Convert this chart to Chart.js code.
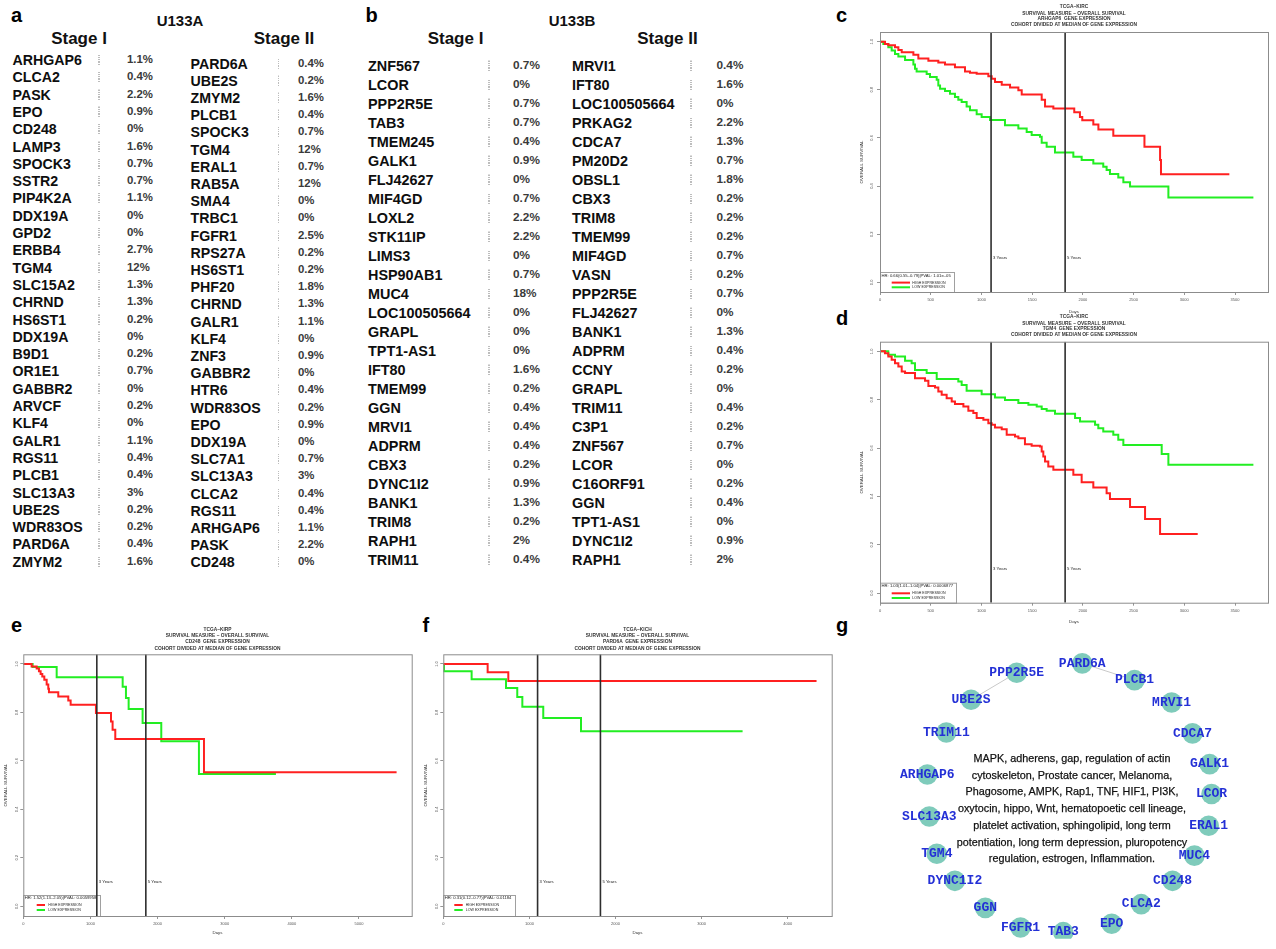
<!DOCTYPE html>
<html>
<head>
<meta charset="utf-8">
<title>Gene signature tables, survival curves and pathway network</title>
<script src="https://cdn.jsdelivr.net/npm/chart.js@4.4.1/dist/chart.umd.min.js"></script>
<style>
  html, body { margin: 0; padding: 0; background: #fff; }
  body { position: relative; width: 1276px; height: 949px; overflow: hidden; font-family: "Liberation Sans", Arial, Helvetica, sans-serif; }
  .abs { position: absolute; white-space: nowrap; line-height: 1; }
  .panel-letter { font-weight: bold; font-size: 20px; color: #000; transform: translateY(-50%); }
  .hdr { font-weight: bold; color: #111; transform: translate(-50%, -50%); }
  .gene { font-weight: bold; color: #0e0e0e; transform: translateY(-50%); }
  .pct { font-weight: bold; color: #3a3a3a; transform: translateY(-50%); }
  .dots { width: 1.6px; height: 11px; transform: translateY(-50%);
          background: repeating-linear-gradient(to bottom, #bdbdbd 0, #bdbdbd 1.2px, transparent 1.2px, transparent 2.3px); }
  .pathways { position: absolute; left: 1072px; top: 750px; transform: translateX(-50%); text-align: center;
              font-size: 10.8px; line-height: 16.7px; color: #111; white-space: nowrap;
              -webkit-text-stroke: 0.25px #111; }
  canvas { position: absolute; }
</style>
</head>
<body>
<script>
// ---------- Panel a: U133A signature genes with alteration frequency ----------
const u133aStageIGenes = ['ARHGAP6','CLCA2','PASK','EPO','CD248','LAMP3','SPOCK3','SSTR2','PIP4K2A','DDX19A','GPD2','ERBB4','TGM4','SLC15A2','CHRND','HS6ST1','DDX19A','B9D1','OR1E1','GABBR2','ARVCF','KLF4','GALR1','RGS11','PLCB1','SLC13A3','UBE2S','WDR83OS','PARD6A','ZMYM2'];
const u133aStageIPct = [1.1,0.4,2.2,0.9,0,1.6,0.7,0.7,1.1,0,0,2.7,12,1.3,1.3,0.2,0,0.2,0.7,0,0.2,0,1.1,0.4,0.4,3,0.2,0.2,0.4,1.6];
const u133aStageIIGenes = ['PARD6A','UBE2S','ZMYM2','PLCB1','SPOCK3','TGM4','ERAL1','RAB5A','SMA4','TRBC1','FGFR1','RPS27A','HS6ST1','PHF20','CHRND','GALR1','KLF4','ZNF3','GABBR2','HTR6','WDR83OS','EPO','DDX19A','SLC7A1','SLC13A3','CLCA2','RGS11','ARHGAP6','PASK','CD248'];
const u133aStageIIPct = [0.4,0.2,1.6,0.4,0.7,12,0.7,12,0,0,2.5,0.2,0.2,1.8,1.3,1.1,0,0.9,0,0.4,0.2,0.9,0,0.7,3,0.4,0.4,1.1,2.2,0];

// ---------- Panel b: U133B signature genes ----------
const u133bStageIGenes = ['ZNF567','LCOR','PPP2R5E','TAB3','TMEM245','GALK1','FLJ42627','MIF4GD','LOXL2','STK11IP','LIMS3','HSP90AB1','MUC4','LOC100505664','GRAPL','TPT1-AS1','IFT80','TMEM99','GGN','MRVI1','ADPRM','CBX3','DYNC1I2','BANK1','TRIM8','RAPH1','TRIM11'];
const u133bStageIPct = [0.7,0,0.7,0.7,0.4,0.9,0,0.7,2.2,2.2,0,0.7,18,0,0,0,1.6,0.2,0.4,0.4,0.4,0.2,0.9,1.3,0.2,2,0.4];
const u133bStageIIGenes = ['MRVI1','IFT80','LOC100505664','PRKAG2','CDCA7','PM20D2','OBSL1','CBX3','TRIM8','TMEM99','MIF4GD','VASN','PPP2R5E','FLJ42627','BANK1','ADPRM','CCNY','GRAPL','TRIM11','C3P1','ZNF567','LCOR','C16ORF91','GGN','TPT1-AS1','DYNC1I2','RAPH1'];
const u133bStageIIPct = [0.4,1.6,0,2.2,1.3,0.7,1.8,0.2,0.2,0.2,0.7,0.2,0.7,0,1.3,0.4,0.2,0,0.4,0.2,0.7,0,0.2,0.4,0,0.9,2];

// ---------- Kaplan-Meier curves: event days and survival fractions ----------
const kircArhgap6HighDays = [0,49,82,148,181,214,329,378,477,575,641,739,838,887,953,1068,1101,1134,1200,1282,1364,1397,1594,1627,1709,1915,1971,1994,2103,2153,2300,2607,2761,2770,3444];
const kircArhgap6HighSurv = [1,0.99,0.985,0.977,0.965,0.956,0.945,0.93,0.921,0.913,0.905,0.894,0.876,0.871,0.867,0.856,0.846,0.832,0.821,0.809,0.798,0.78,0.759,0.731,0.722,0.707,0.687,0.673,0.656,0.635,0.609,0.563,0.508,0.449,0.449];
const kircArhgap6LowDays = [0,33,82,115,148,181,247,329,345,361,460,493,559,575,592,641,690,739,772,805,854,887,953,1002,1085,1232,1364,1446,1495,1577,1594,1643,1725,1906,1988,2103,2201,2234,2267,2349,2399,2465,2843,3681];
const kircArhgap6LowSurv = [1,0.99,0.977,0.963,0.949,0.938,0.924,0.905,0.887,0.876,0.866,0.853,0.842,0.818,0.804,0.795,0.784,0.770,0.759,0.749,0.731,0.715,0.698,0.687,0.674,0.653,0.639,0.625,0.612,0.605,0.580,0.563,0.539,0.522,0.508,0.494,0.480,0.467,0.450,0.436,0.416,0.398,0.353,0.353];

const kircTgm4HighDays = [0,49,82,115,148,181,214,247,345,444,477,542,575,608,657,707,739,822,871,920,953,1019,1068,1101,1134,1200,1249,1331,1364,1429,1495,1577,1594,1610,1627,1659,1709,1906,1988,2103,2234,2267,2465,2613,2761,3132];
const kircTgm4HighSurv = [1,0.992,0.979,0.965,0.951,0.937,0.917,0.910,0.889,0.878,0.857,0.851,0.834,0.820,0.806,0.793,0.782,0.772,0.754,0.745,0.724,0.717,0.703,0.696,0.685,0.678,0.655,0.648,0.641,0.616,0.609,0.606,0.586,0.565,0.544,0.524,0.510,0.489,0.458,0.437,0.413,0.389,0.356,0.306,0.244,0.244];
const kircTgm4LowDays = [0,82,148,247,312,345,460,559,772,805,854,1002,1134,1232,1364,1463,1545,1594,1643,1725,1923,1972,2120,2152,2201,2300,2349,2399,2777,2843,3681];
const kircTgm4LowSurv = [1,0.986,0.979,0.961,0.951,0.923,0.910,0.886,0.875,0.861,0.837,0.823,0.809,0.799,0.786,0.779,0.772,0.762,0.754,0.742,0.724,0.710,0.696,0.682,0.668,0.655,0.634,0.613,0.575,0.531,0.531];

const kirpCd248HighDays = [0,124,199,233,258,283,313,348,372,382,521,670,705,1082,1306,1330,1370,2691,5560];
const kirpCd248HighSurv = [1,0.990,0.981,0.970,0.959,0.948,0.935,0.915,0.898,0.883,0.866,0.849,0.832,0.798,0.763,0.729,0.690,0.553,0.553];
const kirpCd248LowDays = [0,139,497,1480,1529,1569,1777,2055,2616,3763];
const kirpCd248LowSurv = [1,0.988,0.945,0.906,0.860,0.814,0.757,0.681,0.546,0.546];

const kichPard6aHighDays = [0,515,755,4335];
const kichPard6aHighSurv = [1,0.966,0.930,0.930];
const kichPard6aLowDays = [0,8,329,728,859,918,1161,1599,3476];
const kichPard6aLowSurv = [1,0.970,0.937,0.901,0.864,0.824,0.777,0.722,0.722];

// Axis ticks and reference marks
const survTicks = [0, 0.2, 0.4, 0.6, 0.8, 1.0];
const kircDayTicks = [0,500,1000,1500,2000,2500,3000,3500];
const kirpDayTicks = [0,1000,2000,3000,4000,5000];
const kichDayTicks = [0,1000,2000,3000,4000];
const yearMarkDays = [1095, 1825];
const yearMarkLabels = ['3 Years', '5 Years'];

// ---------- Panel g: network nodes (circular layout coordinates) ----------
const netGenes = ['PARD6A','PLCB1','PPP2R5E','UBE2S','MRVI1','TRIM11','CDCA7','ARHGAP6','GALK1','LCOR','SLC13A3','ERAL1','TGM4','MUC4','DYNC1I2','CD248','GGN','CLCA2','FGFR1','TAB3','EPO'];
const netLayoutX = [13,68,-56,-104,107,-130,129,-150,147,149,-148,146,-140,131,-121,108,-89,75,-52,-7,44];
const netLayoutY = [143,125,133,104,101,69,68,24,35,3,-21,-31,-61,-63,-90,-90,-119,-115,-140,-145,-136];
const netEdges = [['PPP2R5E','UBE2S'], ['PARD6A','PLCB1']];
const pathwayLines = [
  'MAPK, adherens, gap, regulation of actin',
  'cytoskeleton, Prostate cancer, Melanoma,',
  'Phagosome, AMPK, Rap1, TNF, HIF1, PI3K,',
  'oxytocin, hippo, Wnt, hematopoetic cell lineage,',
  'platelet activation, sphingolipid, long term',
  'potentiation, long term depression, pluropotency',
  'regulation, estrogen, Inflammation.'
];

// ================= drawing =================
const FONT = '"Liberation Sans", Arial, Helvetica, sans-serif';
Chart.defaults.font.family = FONT;
const HIGH_COLOR = '#ff2020';
const LOW_COLOR = '#22ee22';
const SURV_MIN = -0.04, SURV_MAX = 1.04;

function addText(txt, x, y, cls, style) {
  const d = document.createElement('div');
  d.className = 'abs ' + cls;
  d.textContent = txt;
  d.style.left = x + 'px';
  d.style.top = y + 'px';
  if (style) Object.assign(d.style, style);
  document.body.appendChild(d);
  return d;
}

function tableColumn(genes, pcts, g) {
  genes.forEach((name, i) => {
    const y = g.y0 + i * g.dy;
    addText(name, g.geneX, y, 'gene', {fontSize: g.geneSize + 'px'});
    const dot = document.createElement('div');
    dot.className = 'abs dots';
    dot.style.left = g.dotX + 'px';
    dot.style.top = y + 'px';
    document.body.appendChild(dot);
    addText(pcts[i] + '%', g.pctX, y, 'pct', {fontSize: g.pctSize + 'px'});
  });
}

// panel letters
[['a', 11, 15], ['b', 365.5, 15], ['c', 836, 15], ['d', 836, 318], ['e', 11, 625], ['f', 422.5, 625], ['g', 836, 625]]
  .forEach(([t, x, y]) => addText(t, x, y, 'panel-letter'));

// table headers
addText('U133A', 180, 20, 'hdr', {fontSize: '15px'});
addText('Stage I', 79, 38, 'hdr', {fontSize: '17px'});
addText('Stage II', 284, 38, 'hdr', {fontSize: '17px'});
addText('U133B', 572, 20, 'hdr', {fontSize: '15px'});
addText('Stage I', 455.5, 38, 'hdr', {fontSize: '17px'});
addText('Stage II', 667.5, 38, 'hdr', {fontSize: '17px'});

tableColumn(u133aStageIGenes, u133aStageIPct, {geneX: 12.5, dotX: 98, pctX: 127, y0: 60, dy: 17.3, geneSize: 14.2, pctSize: 11.4});
tableColumn(u133aStageIIGenes, u133aStageIIPct, {geneX: 190.5, dotX: 277.5, pctX: 298, y0: 63.5, dy: 17.2, geneSize: 14.2, pctSize: 11.4});
tableColumn(u133bStageIGenes, u133bStageIPct, {geneX: 368, dotX: 488, pctX: 513, y0: 66, dy: 19.0, geneSize: 14.4, pctSize: 11.8});
tableColumn(u133bStageIIGenes, u133bStageIIPct, {geneX: 572, dotX: 690, pctX: 716.5, y0: 66, dy: 19.0, geneSize: 14.4, pctSize: 11.8});

// ---------- Kaplan-Meier panels ----------
function kmDecor(p) {
  return {
    id: 'kmDecor',
    beforeDatasetsDraw(chart) {
      const {ctx, chartArea: a} = chart;
      const lg = p.legend;
      const top = a.bottom - lg.h;
      ctx.save();
      ctx.strokeStyle = '#a0a0a0';
      ctx.lineWidth = 1;
      ctx.strokeRect(a.left + 0.5, top + 0.5, lg.w, lg.h);
      ctx.fillStyle = '#222';
      ctx.textBaseline = 'middle';
      ctx.textAlign = 'left';
      ctx.font = '4.2px ' + FONT;
      ctx.fillText(p.hr, a.left + 1.5, top + lg.hrY);
      ctx.font = '3.6px ' + FONT;
      [[HIGH_COLOR, 'HIGH EXPRESSION', lg.highY], [LOW_COLOR, 'LOW EXPRESSION', lg.lowY]].forEach(([c, t, yy]) => {
        ctx.strokeStyle = c;
        ctx.lineWidth = 2;
        ctx.beginPath();
        ctx.moveTo(a.left + lg.x0, top + yy);
        ctx.lineTo(a.left + lg.x1, top + yy);
        ctx.stroke();
        ctx.fillText(t, a.left + lg.tx, top + yy);
      });
      ctx.restore();
    },
    afterDatasetsDraw(chart) {
      const {ctx, chartArea: a, scales: {x, y}} = chart;
      ctx.save();
      ctx.strokeStyle = '#8c8c8c';
      ctx.lineWidth = 1;
      ctx.strokeRect(a.left + 0.5, a.top + 0.5, a.right - a.left, a.bottom - a.top);
      ctx.fillStyle = '#222';
      ctx.font = '4.2px ' + FONT;
      ctx.textAlign = 'left';
      ctx.textBaseline = 'middle';
      yearMarkDays.forEach((d, i) => ctx.fillText(yearMarkLabels[i], x.getPixelForValue(d) + 2, y.getPixelForValue(0.1)));
      ctx.fillStyle = '#333';
      ctx.font = 'bold 4.85px ' + FONT;
      ctx.textAlign = 'center';
      const cx = (a.left + a.right) / 2;
      p.titles.forEach((t, i) => ctx.fillText(t, cx, p.titleY[i]));
      ctx.restore();
    }
  };
}

function drawKM(p) {
  const cv = document.createElement('canvas');
  cv.width = p.w;
  cv.height = p.h;
  cv.style.left = p.left + 'px';
  cv.style.top = p.top + 'px';
  document.body.appendChild(cv);
  const pts = (xs, ys) => xs.map((v, i) => ({x: v, y: ys[i]}));
  const curve = (xs, ys, color) => ({data: pts(xs, ys), borderColor: color, borderWidth: 2, stepped: true,
                                      pointRadius: 0, fill: false, order: 1});
  const mark = d => ({data: [{x: d, y: SURV_MIN}, {x: d, y: SURV_MAX}], borderColor: '#2e2e2e', borderWidth: 1.6,
                      pointRadius: 0, fill: false, order: 0});
  const axisGrid = {drawOnChartArea: false, drawTicks: true, tickLength: 3, color: '#7a7a7a', lineWidth: 0.8};
  new Chart(cv, {
    type: 'line',
    data: {datasets: [curve(p.highDays, p.highSurv, HIGH_COLOR), curve(p.lowDays, p.lowSurv, LOW_COLOR), ...yearMarkDays.map(mark)]},
    options: {
      responsive: false,
      animation: false,
      events: [],
      layout: {padding: {top: p.areaTop, right: p.w - p.areaRight, left: 0, bottom: 0}},
      plugins: {legend: {display: false}, tooltip: {enabled: false}},
      scales: {
        x: {
          type: 'linear', min: 0, max: p.dayMax,
          afterBuildTicks: s => { s.ticks = p.dayTicks.map(v => ({value: v})); },
          afterFit: s => { s.height = p.xAxisH; },
          ticks: {font: {size: 4}, color: '#555', padding: 2.5, maxRotation: 0, autoSkip: false, callback: v => String(v)},
          grid: axisGrid,
          border: {display: false},
          title: {display: true, text: 'Days', font: {size: 4.4}, color: '#333', padding: {top: 0, bottom: 0}}
        },
        y: {
          type: 'linear', min: SURV_MIN, max: SURV_MAX,
          afterBuildTicks: s => { s.ticks = survTicks.map(v => ({value: v})); },
          afterFit: s => { s.width = p.yAxisW; },
          ticks: {font: {size: 4}, color: '#555', padding: p.yTickPad, minRotation: 90, maxRotation: 90,
                  crossAlign: 'center', autoSkip: false, callback: v => v.toFixed(1)},
          grid: axisGrid,
          border: {display: false},
          title: {display: true, text: 'OVERALL SURVIVAL', font: {size: 4.4}, color: '#333', padding: {top: p.yTitlePad, bottom: 0}}
        }
      }
    },
    plugins: [kmDecor(p)]
  });
}

const kircLegend = {w: 74, h: 20, hrY: 3.6, highY: 10.6, lowY: 15.3, x0: 11.7, x1: 30, tx: 32.3};
const smallLegend = {w: 76.7, h: 21, hrY: 3.3, highY: 10, lowY: 15, x0: 13.4, x1: 21.7, tx: 25};

drawKM({
  left: 855, top: 0, w: 421, h: 314, areaTop: 32, areaRight: 413, yAxisW: 25, xAxisH: 22, yTickPad: 2, yTitlePad: 4,
  dayMax: 3825, dayTicks: kircDayTicks,
  highDays: kircArhgap6HighDays, highSurv: kircArhgap6HighSurv, lowDays: kircArhgap6LowDays, lowSurv: kircArhgap6LowSurv,
  titles: ['TCGA–KIRC', 'SURVIVAL MEASURE – OVERALL SURVIVAL', 'ARHGAP6  GENE EXPRESSION', 'COHORT DIVIDED AT MEDIAN OF GENE EXPRESSION'],
  titleY: [6.7, 13.3, 19, 25],
  hr: 'HR: 0.66(0.55–0.79)|PVAL: 1.01e–05', legend: kircLegend
});
drawKM({
  left: 855, top: 310, w: 421, h: 314, areaTop: 31.7, areaRight: 413, yAxisW: 25, xAxisH: 21.3, yTickPad: 2, yTitlePad: 4,
  dayMax: 3825, dayTicks: kircDayTicks,
  highDays: kircTgm4HighDays, highSurv: kircTgm4HighSurv, lowDays: kircTgm4LowDays, lowSurv: kircTgm4LowSurv,
  titles: ['TCGA–KIRC', 'SURVIVAL MEASURE – OVERALL SURVIVAL', 'TGM4  GENE EXPRESSION', 'COHORT DIVIDED AT MEDIAN OF GENE EXPRESSION'],
  titleY: [6.7, 13.3, 19, 25],
  hr: 'HR: 1.03(1.01–1.04)|PVAL: 0.0006877', legend: Object.assign({}, kircLegend, {w: 76})
});
drawKM({
  left: 0, top: 615, w: 420, h: 320, areaTop: 39.3, areaRight: 411.7, yAxisW: 23.3, xAxisH: 19, yTickPad: 0.5, yTitlePad: 2.7,
  dayMax: 5785, dayTicks: kirpDayTicks,
  highDays: kirpCd248HighDays, highSurv: kirpCd248HighSurv, lowDays: kirpCd248LowDays, lowSurv: kirpCd248LowSurv,
  titles: ['TCGA–KIRP', 'SURVIVAL MEASURE – OVERALL SURVIVAL', 'CD248  GENE EXPRESSION', 'COHORT DIVIDED AT MEDIAN OF GENE EXPRESSION'],
  titleY: [15, 21, 26.7, 33.3],
  hr: 'HR: 1.52(1.13–2.05)|PVAL: 0.0059958', legend: smallLegend
});
drawKM({
  left: 420, top: 615, w: 430, h: 320, areaTop: 39.3, areaRight: 411.7, yAxisW: 23.3, xAxisH: 19, yTickPad: 0.5, yTitlePad: 2.7,
  dayMax: 4511, dayTicks: kichDayTicks,
  highDays: kichPard6aHighDays, highSurv: kichPard6aHighSurv, lowDays: kichPard6aLowDays, lowSurv: kichPard6aLowSurv,
  titles: ['TCGA–KICH', 'SURVIVAL MEASURE – OVERALL SURVIVAL', 'PARD6A  GENE EXPRESSION', 'COHORT DIVIDED AT MEDIAN OF GENE EXPRESSION'],
  titleY: [15, 21, 26.7, 33.3],
  hr: 'HR: 0.31(0.12–0.77)|PVAL: 0.01184', legend: Object.assign({}, smallLegend, {w: 71.7, x0: 11, x1: 19.4, tx: 22.4})
});

// ---------- Panel g: interaction network ----------
(function () {
  const cv = document.createElement('canvas');
  cv.width = 416; cv.height = 309;
  cv.style.left = '860px'; cv.style.top = '640px';
  document.body.appendChild(cv);
  const nodePts = netGenes.map((g, i) => ({x: netLayoutX[i], y: netLayoutY[i]}));
  const byName = g => nodePts[netGenes.indexOf(g)];
  const edgeSets = netEdges.map(([a, b]) => ({
    type: 'line', data: [byName(a), byName(b)], borderColor: '#c9c9c9', borderWidth: 1,
    pointRadius: 0, showLine: true, fill: false, order: 2
  }));
  const nodeLabels = {
    id: 'nodeLabels',
    afterDatasetsDraw(chart) {
      const {ctx, scales: {x, y}} = chart;
      ctx.save();
      ctx.font = 'bold 13px "Liberation Mono", "Courier New", monospace';
      ctx.fillStyle = '#2430d6';
      ctx.textAlign = 'center';
      ctx.textBaseline = 'middle';
      netGenes.forEach((g, i) => ctx.fillText(g, x.getPixelForValue(netLayoutX[i]), y.getPixelForValue(netLayoutY[i])));
      ctx.restore();
    }
  };
  new Chart(cv, {
    type: 'scatter',
    data: {datasets: [
      {data: nodePts, pointRadius: 10.3, pointBackgroundColor: '#7fcbbb', pointBorderWidth: 0, order: 1},
      ...edgeSets
    ]},
    options: {
      responsive: false, animation: false, events: [],
      layout: {padding: 0},
      plugins: {legend: {display: false}, tooltip: {enabled: false}},
      scales: {
        x: {type: 'linear', min: -210, max: 206, display: false},
        y: {type: 'linear', min: -152, max: 157, display: false}
      }
    },
    plugins: [nodeLabels]
  });
  const box = document.createElement('div');
  box.className = 'pathways';
  pathwayLines.forEach(t => { const l = document.createElement('div'); l.textContent = t; box.appendChild(l); });
  document.body.appendChild(box);
})();
</script>
</body>
</html>
